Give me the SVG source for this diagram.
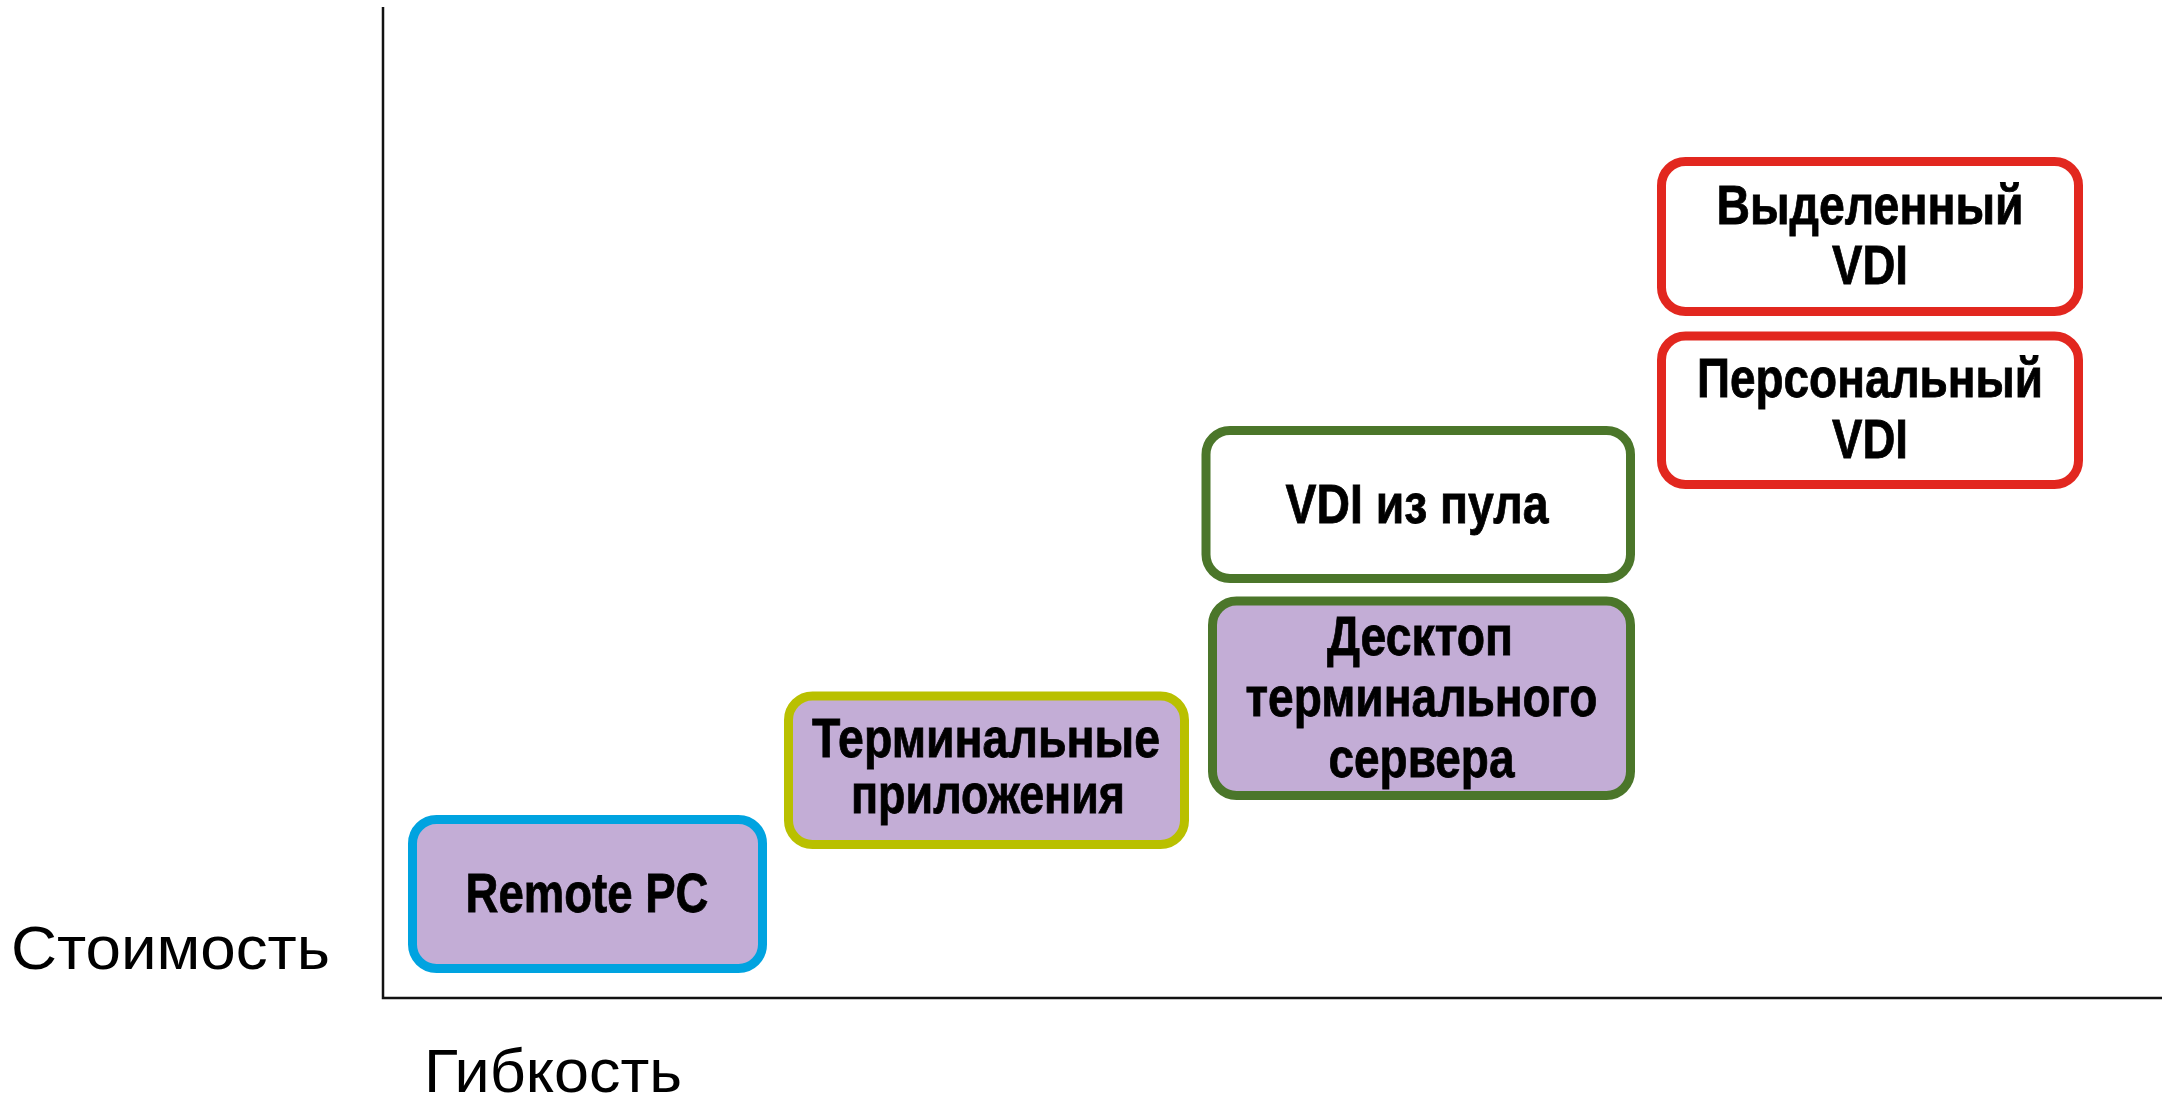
<svg xmlns="http://www.w3.org/2000/svg" width="2162" height="1099" viewBox="0 0 2162 1099">
<style>
.box{stroke-width:9}
.lav{fill:#c3add6}
.wht{fill:#ffffff}
.blue{stroke:#00a3e0}
.ygreen{stroke:#b9c000}
.green{stroke:#4b762a}
.red{stroke:#e2271f}
.lbl{font-family:"Liberation Sans Narrow","Liberation Sans",Arial,sans-serif;font-weight:bold;font-size:56px;fill:#000;stroke:#000;stroke-width:0.8;text-anchor:middle}
.ax{font-family:"Liberation Sans Narrow","Liberation Sans",Arial,sans-serif;font-size:61px;fill:#000}
.axis{stroke:#111;stroke-width:2.5;fill:none}
</style>
<rect width="2162" height="1099" fill="#ffffff"/>
<g id="axes">
<path class="axis" d="M383,7 V998 H2162"/>
</g>
<g id="node-remote-pc">
<rect class="box lav blue" x="412.5" y="819.5" width="350" height="149" rx="24"/>
<text class="lbl" x="587" y="912" textLength="243" lengthAdjust="spacingAndGlyphs">Remote PC</text>
</g>
<g id="node-terminal-apps">
<rect class="box lav ygreen" x="788.5" y="696" width="396" height="148.5" rx="24"/>
<text class="lbl" x="986" y="757" textLength="348" lengthAdjust="spacingAndGlyphs">Терминальные</text>
<text class="lbl" x="988" y="813" textLength="274" lengthAdjust="spacingAndGlyphs">приложения</text>
</g>
<g id="node-vdi-pool">
<rect class="box wht green" x="1206" y="430.5" width="424.5" height="148" rx="24"/>
<text class="lbl" x="1417" y="523" textLength="263" lengthAdjust="spacingAndGlyphs">VDI из пула</text>
</g>
<g id="node-terminal-desktop">
<rect class="box lav green" x="1212.5" y="601" width="418" height="194.5" rx="24"/>
<text class="lbl" x="1420" y="655" textLength="186" lengthAdjust="spacingAndGlyphs">Десктоп</text>
<text class="lbl" x="1421.5" y="716" textLength="352" lengthAdjust="spacingAndGlyphs">терминального</text>
<text class="lbl" x="1421.5" y="777" textLength="186" lengthAdjust="spacingAndGlyphs">сервера</text>
</g>
<g id="node-dedicated-vdi">
<rect class="box wht red" x="1661.5" y="161.5" width="417" height="150" rx="24"/>
<text class="lbl" x="1870" y="224" textLength="307" lengthAdjust="spacingAndGlyphs">Выделенный</text>
<text class="lbl" x="1870" y="284" textLength="76" lengthAdjust="spacingAndGlyphs">VDI</text>
</g>
<g id="node-personal-vdi">
<rect class="box wht red" x="1661.5" y="336" width="417" height="148.5" rx="24"/>
<text class="lbl" x="1870" y="397" textLength="346" lengthAdjust="spacingAndGlyphs">Персональный</text>
<text class="lbl" x="1870" y="458" textLength="76" lengthAdjust="spacingAndGlyphs">VDI</text>
</g>
<g id="axis-labels">
<text class="ax" x="11" y="969" textLength="319" lengthAdjust="spacingAndGlyphs">Стоимость</text>
<text class="ax" x="424" y="1092" textLength="258" lengthAdjust="spacingAndGlyphs">Гибкость</text>
</g>
<g id="connectors"></g>
</svg>
